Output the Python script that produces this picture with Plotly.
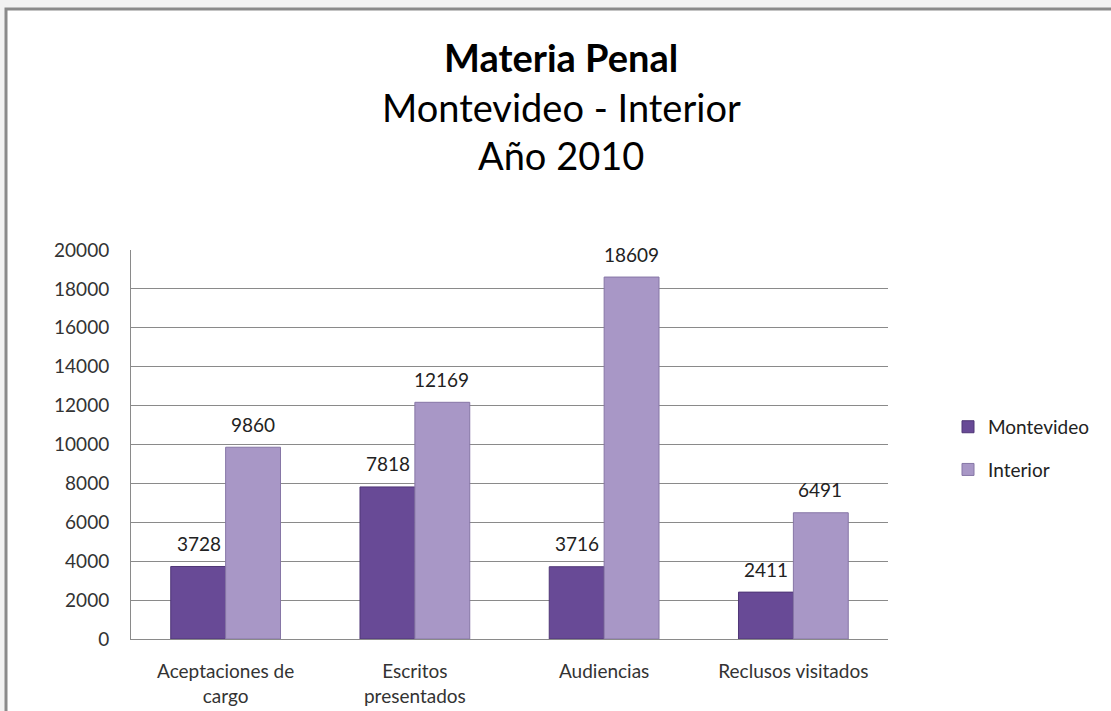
import plotly.graph_objects as go

# datos
categorias = ["Aceptaciones de<br>cargo", "Escritos<br>presentados", "Audiencias", "Reclusos visitados"]
montevideo = [3728, 7818, 3716, 2411]
interior = [9860, 12169, 18609, 6491]

# margenes del area de trazado (px)
L, R, T, B = 131, 223, 250, 72
W, H = 1111, 711
pw, ph = W - L - R, H - T - B

fnt = "Lato"

bar_m = go.Bar(x=categorias, y=montevideo, name="Montevideo",
               marker=dict(color="#684a96", line=dict(color="#4f3676", width=1)),
               legendgroup="m")
bar_i = go.Bar(x=categorias, y=interior, name="Interior",
               marker=dict(color="#a897c6", line=dict(color="#8676a6", width=1)),
               legendgroup="i")

fig = go.Figure(data=[bar_m, bar_i])

# etiquetas de valores sobre las barras
for serie, dx in [(montevideo, -27), (interior, 27)]:
    for cat, val in zip(categorias, serie):
        fig.add_annotation(x=cat, y=val, text=str(val), showarrow=False,
                           xshift=dx, yshift=23, yanchor="middle",
                           font=dict(family=fnt, size=19, color="#222222"))

# marco exterior
fig.add_shape(type="rect", xref="paper", yref="paper",
              x0=(6 - L) / pw, x1=1.6, y0=-0.5, y1=(H - B - 9) / ph,
              line=dict(color="#8a8a8a", width=3), fillcolor="white", layer="below")

# titulo en tres lineas
titulos = [("<b>Materia Penal</b>", 57), ("Montevideo - Interior", 107), ("Año 2010", 155)]
for txt, py_ in titulos:
    fig.add_annotation(text=txt, xref="paper", yref="paper",
                       x=(561 - L) / pw, y=(H - B - py_) / ph,
                       showarrow=False, xanchor="center", yanchor="middle",
                       font=dict(family=fnt, size=38, color="black"))

fig.update_layout(
    width=W, height=H,
    margin=dict(l=L, r=R, t=T, b=B, autoexpand=False),
    paper_bgcolor="#f2f2f2",
    plot_bgcolor="rgba(0,0,0,0)",
    barmode="group",
    bargap=0.42,
    bargroupgap=0,
    font=dict(family=fnt, size=19, color="#333333"),
    showlegend=True,
    legend=dict(x=(948 - L) / pw, y=0.49, xanchor="left", yanchor="middle",
                bgcolor="rgba(0,0,0,0)", tracegroupgap=15,
                font=dict(family=fnt, size=19, color="#222222")),
    xaxis=dict(showline=True, linecolor="#8a8a8a", linewidth=1, showgrid=False,
               ticklabelstandoff=15,
               tickfont=dict(family=fnt, size=19, color="#333333")),
    yaxis=dict(range=[0, 20000], dtick=2000, tickformat="d", showline=True,
               linecolor="#8a8a8a", linewidth=1, showgrid=True,
               gridcolor="#8a8a8a", gridwidth=1,
               zeroline=False, ticklabelstandoff=17,
               tickfont=dict(family=fnt, size=19, color="#333333")),
)

fig.write_html("out.html", config={"displayModeBar": False},
               post_script="document.body.style.margin='0';")
